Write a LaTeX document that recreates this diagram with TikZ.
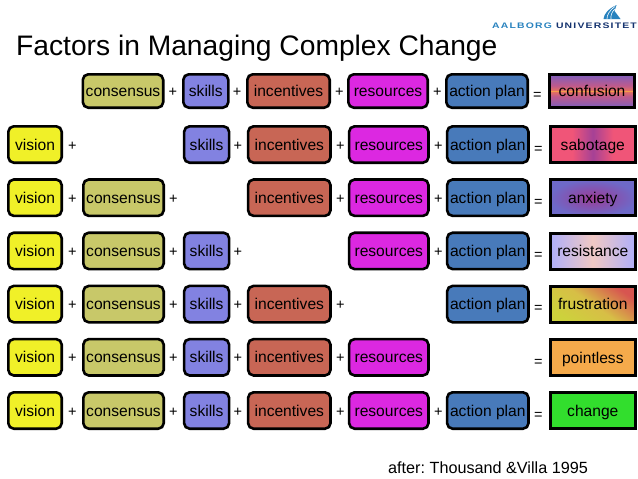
\documentclass[tikz,border=0pt]{standalone}
\usepackage{fontspec}
\setmainfont{Liberation Sans}
\newfontfamily\logofont[LetterSpace=15,FakeStretch=1.3]{Liberation Sans}
\usetikzlibrary{positioning, shadings}

\definecolor{confpurple}{RGB}{125,95,190}
\definecolor{confpink}{RGB}{190,90,140}
\definecolor{confmid}{RGB}{225,110,100}
\definecolor{confglow}{RGB}{250,170,70}
\definecolor{visionyellow}{RGB}{240,240,40}
\definecolor{consensusolive}{RGB}{200,200,105}
\definecolor{skillsblue}{RGB}{130,130,225}
\definecolor{incentivesred}{RGB}{200,102,85}
\definecolor{resourcesmagenta}{RGB}{220,40,225}
\definecolor{planblue}{RGB}{72,122,186}
\definecolor{sabpink}{RGB}{240,85,120}
\definecolor{sabpurple}{RGB}{165,65,150}
\definecolor{anxouter}{RGB}{110,105,200}
\definecolor{anxinner}{RGB}{155,60,150}
\definecolor{reslav}{RGB}{175,175,250}
\definecolor{respink}{RGB}{240,200,195}
\definecolor{frusyellow}{RGB}{205,210,60}
\definecolor{frusmid}{RGB}{215,190,70}
\definecolor{frusred}{RGB}{215,85,80}
\definecolor{pointlessorange}{RGB}{245,170,75}
\definecolor{changegreen}{RGB}{50,222,45}
\definecolor{logoblue}{RGB}{40,130,190}
\definecolor{logonavy}{RGB}{20,50,110}

\pgfdeclareverticalshading{confusionfill}{100bp}{
  color(0bp)=(confpurple); color(25bp)=(confpurple); color(42bp)=(confpink);
  color(48.5bp)=(confmid); color(50bp)=(confglow); color(51.5bp)=(confmid);
  color(58bp)=(confpink); color(75bp)=(confpurple); color(100bp)=(confpurple)}
\pgfdeclarehorizontalshading{sabotagefill}{100bp}{
  color(0bp)=(sabpink); color(25bp)=(sabpink); color(38bp)=(sabpink);
  color(50bp)=(sabpurple); color(62bp)=(sabpink); color(75bp)=(sabpink); color(100bp)=(sabpink)}

\begin{document}
\begin{tikzpicture}[
  x=1pt, y=-1pt,
  factor/.style  = {draw, line width=2.6pt, rounded corners=5.5pt, minimum height=36.4pt,
                    inner sep=0pt, text height=14pt, text depth=3pt, font=\fontsize{15.6}{18}\selectfont},
  visionbox/.style     = {factor, fill=visionyellow, minimum width=53.4pt},
  consensusbox/.style  = {factor, fill=consensusolive, minimum width=80.4pt},
  skillsbox/.style     = {factor, fill=skillsblue, minimum width=45pt},
  incentivesbox/.style = {factor, fill=incentivesred, minimum width=82.4pt},
  resourcesbox/.style  = {factor, fill=resourcesmagenta, minimum width=79.4pt},
  planbox/.style       = {factor, fill=planblue, minimum width=81.4pt},
  outcome/.style = {draw, line width=3pt, minimum width=85pt, minimum height=36pt,
                    inner sep=0pt, text height=14pt, text depth=3pt, font=\fontsize{15.6}{18}\selectfont},
  op/.style  = {inner sep=0pt, text height=11pt, text depth=0pt, font=\fontsize{14.5}{17}\selectfont},
  rowgap/.style = {below=14.2pt of #1},
  firstrow/.style = {minimum height=33.4pt, anchor=west},
  firstgap/.style = {below=16pt of #1, xshift=.8pt},
]
  \useasboundingbox (0,0) rectangle (638,479);

  \node[anchor=base west, inner sep=0pt, font=\fontsize{28.2}{32}\selectfont] (title) at (16,55)
    {Factors in Managing Complex Change};

  % logo
  \fill[logoblue] (603.5,19) .. controls (604,14) and (608,9) .. (616.5,5) -- (614.5,11) -- (620.5,19) -- cycle;
  \draw[white, line width=.6pt] (607,19) .. controls (607,15) and (609,11) .. (615,6.5);
  \draw[white, line width=.6pt] (611,19) .. controls (610.5,16) and (611.5,12) .. (615,9);
  \node[anchor=base east, inner sep=0pt, font=\logofont\bfseries\fontsize{8}{9}\selectfont] (logo) at (637,28.5)
    {\textcolor{logoblue}{AALBORG} \textcolor{logonavy}{UNIVERSITET}};

  % first row
  \node[consensusbox, firstrow]  (con1) at (81.5,91) {consensus};
  \node[skillsbox, firstrow]     (ski1) at (182,91) {skills};
  \node[incentivesbox, firstrow] (inc1) at (246,91) {incentives};
  \node[resourcesbox, firstrow]  (res1) at (347,91) {resources};
  \node[planbox, firstrow]       (pla1) at (445,91) {action plan};
  \node[outcome, firstrow, shading=confusionfill] (out1) at (548,91) {confusion};

  % second row
  \node[visionbox, anchor=west]   (vis2) at (7,144.5) {vision};
  \node[skillsbox, firstgap=ski1]     (ski2) {skills};
  \node[incentivesbox, firstgap=inc1] (inc2) {incentives};
  \node[resourcesbox, firstgap=res1]  (res2) {resources};
  \node[planbox, firstgap=pla1]       (pla2) {action plan};
  \node[outcome, firstgap=out1, shading=sabotagefill] (out2) {sabotage};

  % third row
  \node[visionbox, rowgap=vis2]     (vis3) {vision};
  \node[consensusbox, anchor=west]  (con3) at (82,197.7) {consensus};
  \node[incentivesbox, rowgap=inc2] (inc3) {incentives};
  \node[resourcesbox, rowgap=res2]  (res3) {resources};
  \node[planbox, rowgap=pla2]       (pla3) {action plan};
  \node[outcome, rowgap=out2, inner color=anxinner, outer color=anxouter] (out3) {anxiety};

  % fourth row
  \node[visionbox, rowgap=vis3]    (vis4) {vision};
  \node[consensusbox, rowgap=con3] (con4) {consensus};
  \node[skillsbox, anchor=west]    (ski4) at (182.8,250.9) {skills};
  \node[resourcesbox, rowgap=res3] (res4) {resources};
  \node[planbox, rowgap=pla3]      (pla4) {action plan};
  \node[outcome, rowgap=out3, left color=reslav, right color=reslav, middle color=respink] (out4) {resistance};

  % fifth row
  \node[visionbox, rowgap=vis4]     (vis5) {vision};
  \node[consensusbox, rowgap=con4]  (con5) {consensus};
  \node[skillsbox, rowgap=ski4]     (ski5) {skills};
  \node[incentivesbox, anchor=west] (inc5) at (246.8,304.1) {incentives};
  \node[planbox, rowgap=pla4]       (pla5) {action plan};
  \node[outcome, rowgap=out4, left color=frusyellow, right color=frusred, middle color=frusmid, shading angle=145] (out5) {frustration};

  % sixth row
  \node[visionbox, rowgap=vis5]     (vis6) {vision};
  \node[consensusbox, rowgap=con5]  (con6) {consensus};
  \node[skillsbox, rowgap=ski5]     (ski6) {skills};
  \node[incentivesbox, rowgap=inc5] (inc6) {incentives};
  \node[resourcesbox, anchor=west]  (res6) at (347.8,357.3) {resources};
  \node[outcome, rowgap=out5, fill=pointlessorange] (out6) {pointless};

  % seventh row
  \node[visionbox, rowgap=vis6]     (vis7) {vision};
  \node[consensusbox, rowgap=con6]  (con7) {consensus};
  \node[skillsbox, rowgap=ski6]     (ski7) {skills};
  \node[incentivesbox, rowgap=inc6] (inc7) {incentives};
  \node[resourcesbox, rowgap=res6]  (res7) {resources};
  \node[planbox, below=67.4pt of pla5] (pla7) {action plan};
  \node[outcome, rowgap=out6, fill=changegreen] (out7) {change};

  % plus and equals signs
  \node[op, right=4pt of con1] (p12) {+};
  \node[op, right=3pt of ski1] (p13) {+};
  \node[op, right=4pt of inc1] (p14) {+};
  \node[op, right=4pt of res1] (p15) {+};
  \node[op, right=4pt of pla1, yshift=-3pt] (e1) {=};

  \node[op, right=5pt of vis2] (p21) {+};
  \node[op, right=3pt of ski2] (p23) {+};
  \node[op, right=4pt of inc2] (p24) {+};
  \node[op, right=4pt of res2] (p25) {+};
  \node[op, right=4pt of pla2, yshift=-3pt] (e2) {=};

  \node[op, right=5pt of vis3] (p31) {+};
  \node[op, right=4pt of con3] (p32) {+};
  \node[op, right=4pt of inc3] (p34) {+};
  \node[op, right=4pt of res3] (p35) {+};
  \node[op, right=4pt of pla3, yshift=-3pt] (e3) {=};

  \node[op, right=5pt of vis4] (p41) {+};
  \node[op, right=4pt of con4] (p42) {+};
  \node[op, right=3pt of ski4] (p43) {+};
  \node[op, right=4pt of res4] (p45) {+};
  \node[op, right=4pt of pla4, yshift=-3pt] (e4) {=};

  \node[op, right=5pt of vis5] (p51) {+};
  \node[op, right=4pt of con5] (p52) {+};
  \node[op, right=3pt of ski5] (p53) {+};
  \node[op, right=4pt of inc5] (p54) {+};
  \node[op, right=4pt of pla5, yshift=-3pt] (e5) {=};

  \node[op, right=5pt of vis6] (p61) {+};
  \node[op, right=4pt of con6] (p62) {+};
  \node[op, right=3pt of ski6] (p63) {+};
  \node[op, right=4pt of inc6] (p64) {+};
  \node[op, below=42.2pt of e5]  (e6) {=};

  \node[op, right=5pt of vis7] (p71) {+};
  \node[op, right=4pt of con7] (p72) {+};
  \node[op, right=3pt of ski7] (p73) {+};
  \node[op, right=4pt of inc7] (p74) {+};
  \node[op, right=4pt of res7] (p75) {+};
  \node[op, right=4pt of pla7, yshift=-3pt] (e7) {=};

  \node[anchor=base west, inner sep=0pt, font=\fontsize{16.2}{18}\selectfont] (source) at (388,473)
    {after:\ Thousand \&Villa 1995};
\end{tikzpicture}
\end{document}
